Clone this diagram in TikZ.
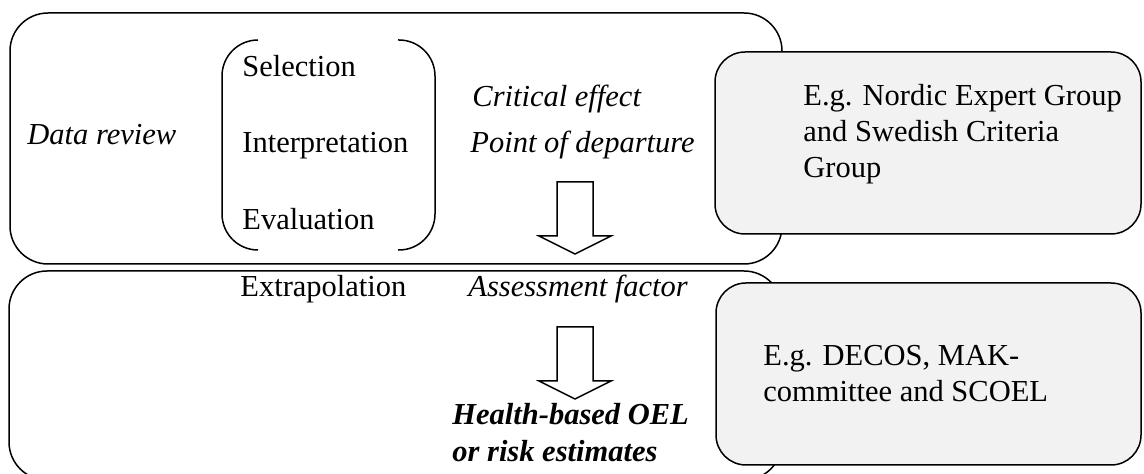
\documentclass[tikz,border=0pt]{standalone}
\usepackage{fontspec}
\setmainfont{Liberation Serif}
\usepackage{tikz}

\tikzset{
  stage/.style={draw, line width=0.75pt, rounded corners=19pt},
  bodybox/.style={draw, line width=0.75pt, rounded corners=15pt, fill=gray!10},
  brack/.style={draw, line width=0.75pt, rounded corners=18pt},
  txt/.style={inner sep=0pt, anchor=base west, align=left,
    font=\fontsize{15.25pt}{18pt}\selectfont},
}

\begin{document}
\begin{tikzpicture}[x=0.5pt, y=-0.5pt]
    \useasboundingbox (0,0) rectangle (1144,474);
    % the two stages
    \draw[stage] (10,13) rectangle (782,264);
    \draw[stage] (9,271) rectangle (782,480);
    % who does it
    \draw[bodybox] (715,52) rectangle (1141,234);
    \draw[bodybox] (716,283) rectangle (1141,465);
    % brackets round the three steps
    \draw[brack] (258,40) -- (222,40) -- (222,250) -- (258,250);
    \draw[brack] (398,40) -- (435,40) -- (435,250) -- (398,250);
    % block arrows
    \foreach \t in {182,327}
      \draw[line width=0.75pt] (557,\t) -- (593,\t) -- (593,\t+54) -- (611,\t+54)
        -- (575,\t+72) -- (539,\t+54) -- (557,\t+54) -- cycle;

    \node[txt] (review) at (27,145) {\itshape Data review};
    \node[txt] (select) at (242,77) {Selection};
    \node[txt] (interp) at (242,153) {Interpretation};
    \node[txt] (evalu) at (242,230) {Evaluation};
    \node[txt] (crit) at (472,107) {\itshape Critical effect};
    \node[txt] (pod) at (470,153) {\itshape Point of departure};
    \node[txt] (extra) at (240,297) {Extrapolation};
    \node[txt] (afactor) at (468,297) {\itshape Assessment factor};
    % multi-line nodes sit on their last line
    \node[txt, font=\fontsize{15.25pt}{18.5pt}\selectfont\bfseries\itshape] (oel) at (452,462)
      {Health-based OEL\\ or risk estimates};
    \node[txt] (nordic) at (803,178) {E.g. Nordic Expert Group\\ and Swedish Criteria\\ Group};
    \node[txt] (decos) at (763,402) {E.g. DECOS, MAK-\\ committee and SCOEL};
\end{tikzpicture}
\end{document}
